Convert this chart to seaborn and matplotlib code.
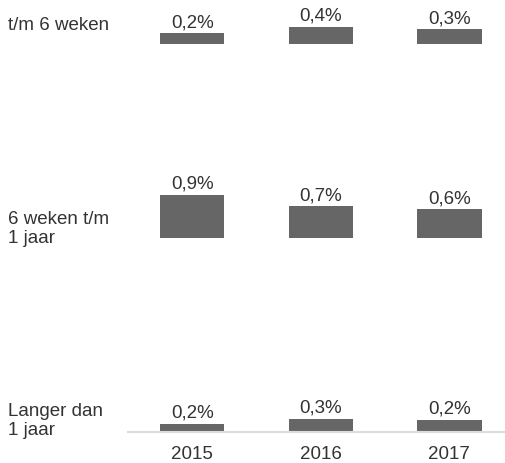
import matplotlib
matplotlib.use("Agg")
import matplotlib.pyplot as plt
import pandas as pd
import seaborn as sns

# data
categories = ["t/m 6 weken", "6 weken t/m\n1 jaar", "Langer dan\n1 jaar"]
years = ["2015", "2016", "2017"]
values_6w = [0.22, 0.36, 0.31]
values_1j = [0.90, 0.66, 0.60]
values_lang = [0.16, 0.26, 0.24]
all_values = [values_6w, values_1j, values_lang]

rows = []
for cat, vals in zip(categories, all_values):
    for yr, v in zip(years, vals):
        rows.append({"categorie": cat, "jaar": yr, "waarde": v})
df = pd.DataFrame(rows)

sns.set_style("white")
plt.rcParams["font.family"] = ["Liberation Sans", "DejaVu Sans"]

W, H = 506, 463
fig = plt.figure(figsize=(W / 100, H / 100), dpi=100)

bar_color = "#666666"
text_color = "#333333"
fs = 13.5

baselines = [44, 238, 431.5]  # px from top
label_y = [25, 229, 421]
ax_h = 60
px_per_unit = 48

for i, cat in enumerate(categories):
    sub = df[df["categorie"] == cat]
    bottom = (H - baselines[i]) / H
    ax = fig.add_axes([128 / W, bottom, (W - 128) / W, ax_h / H])
    sns.barplot(data=sub, x="jaar", y="waarde", color=bar_color, saturation=1,
                width=0.5, errorbar=None, linewidth=0, ax=ax)
    ax.set_ylim(0, ax_h / px_per_unit)
    ax.set_xlim(-0.5, 2.44)
    ax.set_xlabel("")
    ax.set_ylabel("")
    ax.set_yticks([])
    ax.patch.set_alpha(0)
    labels = [("%.1f" % v).replace(".", ",") + "%" for v in sub["waarde"]]
    ax.bar_label(ax.containers[0], labels=labels, padding=1.5,
                 fontsize=fs, color=text_color)
    for s in ["top", "left", "right", "bottom"]:
        ax.spines[s].set_visible(False)
    if i == len(categories) - 1:
        ax.spines["bottom"].set_visible(True)
        ax.spines["bottom"].set_color("#dddddd")
        ax.spines["bottom"].set_linewidth(1.5)
        ax.tick_params(axis="x", length=0, pad=10.5, labelsize=fs,
                       labelcolor=text_color)
    else:
        ax.set_xticks([])
    fig.text(8 / W, 1 - label_y[i] / H, cat, ha="left", va="center",
             fontsize=fs, color=text_color, linespacing=1.1)

fig.savefig("out.png", dpi=100)
